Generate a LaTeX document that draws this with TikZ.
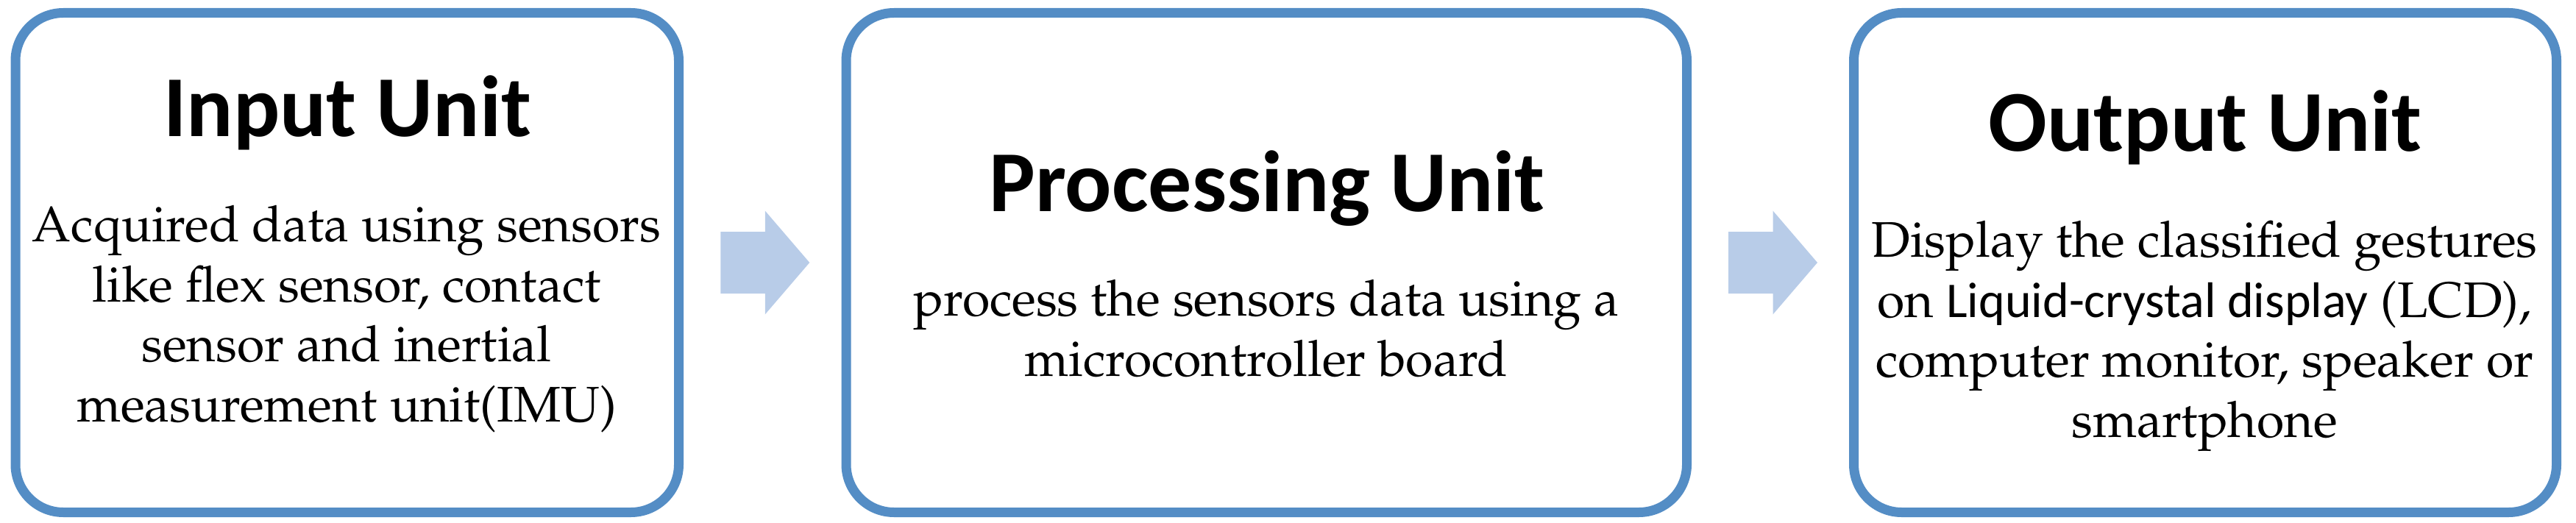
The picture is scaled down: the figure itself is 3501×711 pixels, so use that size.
\documentclass[tikz,border=0pt]{standalone}
\usepackage[T1]{fontenc}
\usepackage{fontspec}
\usetikzlibrary{calc}
\newfontfamily\calibri{Carlito}
\newcommand\palfont{\fontencoding{T1}\fontfamily{ppl}\selectfont}
\definecolor{boxblue}{RGB}{84,141,197}
\definecolor{arrowblue}{RGB}{184,204,232}
\begin{document}
\begin{tikzpicture}[x=1pt,y=-1pt,
  unitbox/.style={draw=boxblue, line width=13pt, rounded corners=65pt, fill=white, inner sep=0pt},
  titletext/.style={anchor=base, font=\calibri\bfseries\fontsize{118}{140}\selectfont, inner sep=0pt},
  bodytext/.style={anchor=base, align=center, font=\palfont\fontsize{68}{81.5}\selectfont, inner sep=0pt},
  blockarrow/.style={fill=arrowblue}]
\useasboundingbox (0,0) rectangle (3501,711);
% boxes
\node[unitbox, minimum width=901.5pt, minimum height=679pt] (inbox) at (471.75,357) {};
\node[unitbox, minimum width=1142.5pt, minimum height=679pt] (procbox) at (1721.25,357) {};
\node[unitbox, minimum width=955pt, minimum height=679pt] (outbox) at (2997,357) {};
% titles
\node[titletext] (intitle) at (472,186) {Input Unit};
\node[titletext] (proctitle) at (1722,288) {Processing Unit};
\node[titletext] (outtitle) at (2997,206) {Output Unit};
% body texts (anchor base = baseline of the last line)
\node[bodytext] (inbody) at (471,573) {Acquired data using sensors\\like flex sensor, contact\\sensor and inertial\\measurement unit(IMU)};
\node[bodytext] (procbody) at (1721,511) {process the sensors data using a\\microcontroller board};
\node[bodytext] (outbody) at (2996,594) {Display the classified gestures\\on {\calibri Liquid-crystal display} (LCD),\\computer monitor, speaker or\\smartphone};
% block arrows
\coordinate (m1) at ($(inbox.east)!0.5!(procbox.west)$);
\coordinate (m2) at ($(procbox.east)!0.5!(outbox.west)$);
\fill[blockarrow] ($(m1)+(-57,-42)$) -- ($(m1)+(3.5,-42)$) -- ($(m1)+(3.5,-70.5)$) -- ($(m1)+(64,0)$) -- ($(m1)+(3.5,70.5)$) -- ($(m1)+(3.5,42)$) -- ($(m1)+(-57,42)$) -- cycle;
\fill[blockarrow] ($(m2)+(-57,-42)$) -- ($(m2)+(3.5,-42)$) -- ($(m2)+(3.5,-70.5)$) -- ($(m2)+(64,0)$) -- ($(m2)+(3.5,70.5)$) -- ($(m2)+(3.5,42)$) -- ($(m2)+(-57,42)$) -- cycle;
\end{tikzpicture}
\end{document}
